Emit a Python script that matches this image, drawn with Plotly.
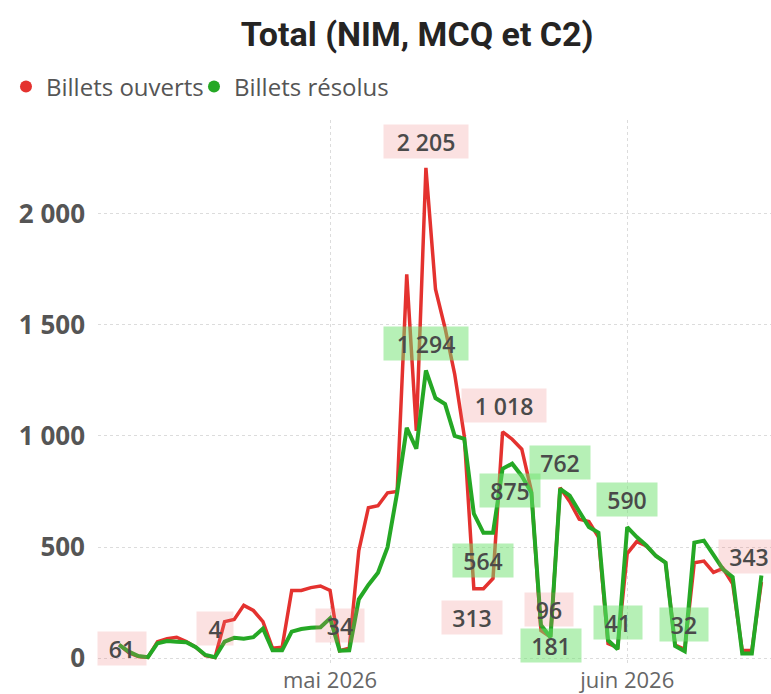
import pandas as pd
import plotly.graph_objects as go

# ---------------- data ----------------
dates = pd.date_range("2026-04-09", "2026-06-15", freq="D")

opened = [
    61, 25, 8, 4, 75, 88, 95, 75, 50, 12, 4,            # Apr 9 - Apr 19
    165, 175, 238, 215, 165, 45, 50,                     # Apr 20 - Apr 26
    305, 305, 318, 325, 305, 34, 45,                     # Apr 27 - May 3
    484, 677, 686, 744, 750, 1726, 1022,                 # May 4 - May 10
    2205, 1659, 1484, 1278, 1000, 313, 313,              # May 11 - May 17
    359, 1018, 985, 940, 753, 125, 96,                   # May 18 - May 24
    767, 705, 625, 615, 545, 67, 49,                     # May 25 - May 31
    471, 525, 505, 460, 430, 60, 40,                     # Jun 1 - Jun 7
    430, 437, 386, 404, 335, 35, 35,                     # Jun 8 - Jun 14
    343,                                                 # Jun 15
]

resolved = [
    60, 30, 10, 5, 68, 78, 75, 72, 50, 15, 5,
    75, 92, 88, 95, 134, 36, 36,
    120, 132, 137, 140, 180, 34, 36,
    265, 330, 385, 500, 745, 1036, 942,
    1294, 1170, 1143, 1000, 987, 650, 564,
    564, 852, 875, 820, 745, 150, 95,
    762, 731, 660, 590, 565, 81, 41,
    590, 545, 507, 460, 430, 55, 32,
    520, 529, 465, 400, 365, 22, 22,
    372,
]

red_label_dates = ["2026-04-09", "2026-04-19", "2026-05-02", "2026-05-11",
                   "2026-05-16", "2026-05-19", "2026-05-24", "2026-06-15"]
red_label_texts = ["61", "4", "34", "2 205", "313", "1 018", "96", "343"]

green_label_dates = ["2026-05-11", "2026-05-17", "2026-05-20", "2026-05-24",
                     "2026-05-25", "2026-05-31", "2026-06-01", "2026-06-07"]
green_label_texts = ["1 294", "564", "875", "181", "762", "41", "590", "32"]

x_tick_vals = ["2026-05-01", "2026-06-01"]
x_tick_text = ["mai 2026", "juin 2026"]
y_tick_vals = [0, 500, 1000, 1500, 2000]

series_names = ["Billets ouverts", "Billets résolus"]
title_text = "Total (NIM, MCQ et C2)"

# ---------------- style ----------------
RED = "#e4322f"
GREEN = "#25a825"
RED_BG = "rgba(235,120,120,0.22)"
GREEN_BG = "rgba(110,225,110,0.5)"
TEXT = "#4a4a4a"

red_offsets = [(3, -4), (0, 29), (0, 25), (0, 26), (-2, -29), (1, 26), (-2, 27), (-12, 26)]
green_offsets = [(0, 27), (0, -28), (-2, -27), (0, -8), (0, 26), (0, 27), (0, 28), (-1, 27)]


def box_width(t):
    return 12 * len(t) + 24


fig = go.Figure()

fig.add_trace(go.Scatter(x=dates, y=opened, mode="lines", name=series_names[0],
                         line=dict(color=RED, width=3.5), showlegend=False))
fig.add_trace(go.Scatter(x=dates, y=resolved, mode="lines", name=series_names[1],
                         line=dict(color=GREEN, width=4), showlegend=False))

# legend entries (dots), one legend per entry for tight spacing
fig.add_trace(go.Scatter(x=[None], y=[None], mode="markers", name=series_names[0],
                         marker=dict(color=RED, size=12), legend="legend"))
fig.add_trace(go.Scatter(x=[None], y=[None], mode="markers", name=series_names[1],
                         marker=dict(color=GREEN, size=12), legend="legend2"))

opened_by_date = dict(zip(dates.strftime("%Y-%m-%d"), opened))
resolved_by_date = dict(zip(dates.strftime("%Y-%m-%d"), resolved))

label_font = dict(family="Open Sans", size=23, color=TEXT, weight=600)
annotations = []
for d, t, (dx, dy) in zip(red_label_dates, red_label_texts, red_offsets):
    annotations.append(dict(x=d, y=opened_by_date[d], xref="x", yref="y", text=t,
                            showarrow=False, xshift=dx, yshift=dy, bgcolor=RED_BG,
                            borderpad=0, width=box_width(t), height=33,
                            font=label_font))
for d, t, (dx, dy) in zip(green_label_dates, green_label_texts, green_offsets):
    annotations.append(dict(x=d, y=resolved_by_date[d], xref="x", yref="y", text=t,
                            showarrow=False, xshift=dx, yshift=dy, bgcolor=GREEN_BG,
                            borderpad=0, width=box_width(t), height=33,
                            font=label_font))

legend_common = dict(orientation="h", xanchor="left",
                     yref="container", y=1 - 87 / 694, yanchor="middle",
                     font=dict(family="Open Sans", size=24, color="#555555"),
                     itemwidth=30, bgcolor="rgba(0,0,0,0)")

fig.update_layout(
    width=771, height=694,
    margin=dict(l=98, r=0, t=120, b=29, autoexpand=False),
    paper_bgcolor="white", plot_bgcolor="white",
    separators=", ",
    title=dict(text="<b>" + title_text + "</b>",
               font=dict(family="Roboto", size=34, color="#252423"),
               xref="container", x=0.541, xanchor="center",
               yref="container", y=1 - 34 / 694, yanchor="middle"),
    legend=dict(xref="container", x=6 / 771, **legend_common),
    legend2=dict(xref="container", x=194 / 771, **legend_common),
    annotations=annotations,
    showlegend=True,
)

fig.update_xaxes(
    range=["2026-04-06 19:00", "2026-06-16 00:00"],
    tickvals=x_tick_vals, ticktext=x_tick_text,
    showgrid=True, gridcolor="#dcdcdc", griddash="dot", gridwidth=1,
    zeroline=False, showline=False, ticks="", automargin=False,
    tickfont=dict(family="Open Sans", size=22, color="#666666"),
)
fig.update_yaxes(
    range=[-30, 2420],
    tickvals=y_tick_vals, tickformat=",d",
    showgrid=True, gridcolor="#dcdcdc", griddash="dot", gridwidth=1,
    zeroline=False, showline=False, ticks="", automargin=False,
    ticklabelstandoff=12,
    tickfont=dict(family="Open Sans", size=26, color="#555555", weight="bold"),
)

fig.write_html("out.html", config={"displayModeBar": False},
               post_script="document.body.style.margin='0';")
